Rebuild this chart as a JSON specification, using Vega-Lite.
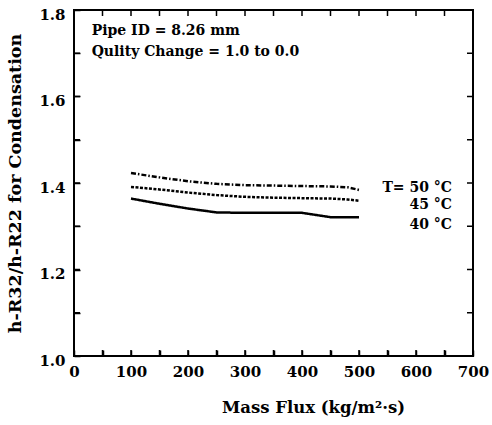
{
  "$schema": "https://vega.github.io/schema/vega-lite/v6.json",
  "autosize": "none",
  "width": 399,
  "height": 346,
  "padding": {"left": 74, "top": 10, "right": 19, "bottom": 69},
  "background": "white",
  "config": {
    "view": {"stroke": "black", "strokeWidth": 2},
    "font": "DejaVu Serif",
    "axis": {
      "labelFont": "DejaVu Serif",
      "labelFontWeight": "bold",
      "labelFontSize": 15,
      "labelColor": "black",
      "titleFont": "DejaVu Serif",
      "titleFontWeight": "bold",
      "titleColor": "black",
      "domain": false,
      "grid": false,
      "ticks": true,
      "tickColor": "black",
      "tickWidth": 1.5,
      "tickSize": 6
    }
  },
  "datasets": {
    "curves": [
      {"G": 100, "r": 1.423, "T": "50"},
      {"G": 150, "r": 1.413, "T": "50"},
      {"G": 200, "r": 1.404, "T": "50"},
      {"G": 250, "r": 1.398, "T": "50"},
      {"G": 300, "r": 1.395, "T": "50"},
      {"G": 350, "r": 1.394, "T": "50"},
      {"G": 400, "r": 1.393, "T": "50"},
      {"G": 450, "r": 1.392, "T": "50"},
      {"G": 480, "r": 1.39, "T": "50"},
      {"G": 500, "r": 1.384, "T": "50"},
      {"G": 100, "r": 1.391, "T": "45"},
      {"G": 150, "r": 1.385, "T": "45"},
      {"G": 200, "r": 1.378, "T": "45"},
      {"G": 250, "r": 1.372, "T": "45"},
      {"G": 300, "r": 1.368, "T": "45"},
      {"G": 350, "r": 1.366, "T": "45"},
      {"G": 400, "r": 1.365, "T": "45"},
      {"G": 450, "r": 1.364, "T": "45"},
      {"G": 480, "r": 1.362, "T": "45"},
      {"G": 500, "r": 1.359, "T": "45"},
      {"G": 100, "r": 1.364, "T": "40"},
      {"G": 150, "r": 1.352, "T": "40"},
      {"G": 200, "r": 1.341, "T": "40"},
      {"G": 250, "r": 1.332, "T": "40"},
      {"G": 300, "r": 1.331, "T": "40"},
      {"G": 350, "r": 1.331, "T": "40"},
      {"G": 400, "r": 1.331, "T": "40"},
      {"G": 450, "r": 1.321, "T": "40"},
      {"G": 500, "r": 1.321, "T": "40"}
    ],
    "notes": [
      {"x": 31, "y": 1.751, "label": "Pipe ID = 8.26 mm"},
      {"x": 31, "y": 1.703, "label": "Qulity Change = 1.0 to 0.0"}
    ],
    "tlabels": [
      {"x": 663, "y": 1.388, "label": "T= 50 °C"},
      {"x": 663, "y": 1.349, "label": "45 °C"},
      {"x": 663, "y": 1.303, "label": "40 °C"}
    ],
    "xticks": [
      {"v": 50}, {"v": 100}, {"v": 150}, {"v": 200}, {"v": 250}, {"v": 300}, {"v": 350},
      {"v": 400}, {"v": 450}, {"v": 500}, {"v": 550}, {"v": 600}, {"v": 650}
    ],
    "yticks": [
      {"v": 1.1}, {"v": 1.2}, {"v": 1.3}, {"v": 1.4}, {"v": 1.5}, {"v": 1.6}, {"v": 1.7}
    ]
  },
  "resolve": {"axis": {"x": "independent", "y": "independent"}},
  "layer": [
    {
      "data": {"name": "curves"},
      "mark": {"type": "line", "color": "black", "strokeWidth": 2.5},
      "encoding": {
        "x": {
          "field": "G", "type": "quantitative",
          "scale": {"domain": [0, 700], "nice": false},
          "axis": {
            "orient": "bottom",
            "offset": -6,
            "values": [0, 50, 100, 150, 200, 250, 300, 350, 400, 450, 500, 550, 600, 650, 700],
            "format": "d",
            "labelOpacity": {"condition": {"test": "datum.value % 100 != 0", "value": 0}, "value": 1},
            "labelPadding": 8,
            "labelFlush": false,
            "labelOverlap": false,
            "title": "Mass Flux (kg/m²·s)",
            "titleFontSize": 16.5,
            "titleX": 239,
            "titlePadding": 20
          }
        },
        "y": {
          "field": "r", "type": "quantitative",
          "scale": {"domain": [1.0, 1.8], "nice": false, "zero": false},
          "axis": {
            "orient": "left",
            "offset": -6,
            "values": [1.0, 1.1, 1.2, 1.3, 1.4, 1.5, 1.6, 1.7, 1.8],
            "format": ".1f",
            "labelOpacity": {"condition": {"test": "round(datum.value * 10) % 2 == 1", "value": 0}, "value": 1},
            "labelPadding": 9,
            "labelOffset": 4,
            "labelOverlap": false,
            "labelBaseline": "middle",
            "title": "h-R32/h-R22 for Condensation",
            "titleFontSize": 17.5,
            "titlePadding": 14
          }
        },
        "strokeDash": {
          "field": "T", "type": "nominal",
          "scale": {"domain": ["50", "45", "40"], "range": [[5, 2, 1.5, 2], [3, 1.5], [1, 0]]},
          "legend": null
        }
      }
    },
    {
      "data": {"name": "xticks"},
      "mark": {"type": "tick", "orient": "vertical", "size": 6, "thickness": 1.5, "color": "black", "opacity": 1, "yOffset": -3},
      "encoding": {
        "x": {"field": "v", "type": "quantitative", "axis": null},
        "y": {"datum": 1.0, "type": "quantitative", "axis": null}
      }
    },
    {
      "data": {"name": "xticks"},
      "mark": {"type": "tick", "orient": "vertical", "size": 6, "thickness": 1.5, "color": "black", "opacity": 1, "yOffset": 3},
      "encoding": {
        "x": {"field": "v", "type": "quantitative", "axis": null},
        "y": {"datum": 1.8, "type": "quantitative", "axis": null}
      }
    },
    {
      "data": {"name": "yticks"},
      "mark": {"type": "tick", "orient": "horizontal", "size": 6, "thickness": 1.5, "color": "black", "opacity": 1, "xOffset": 3},
      "encoding": {
        "y": {"field": "v", "type": "quantitative", "axis": null},
        "x": {"datum": 0, "type": "quantitative", "axis": null}
      }
    },
    {
      "data": {"name": "yticks"},
      "mark": {"type": "tick", "orient": "horizontal", "size": 6, "thickness": 1.5, "color": "black", "opacity": 1, "xOffset": -3},
      "encoding": {
        "y": {"field": "v", "type": "quantitative", "axis": null},
        "x": {"datum": 700, "type": "quantitative", "axis": null}
      }
    },
    {
      "data": {"name": "notes"},
      "mark": {"type": "text", "align": "left", "baseline": "middle", "fontSize": 14, "fontWeight": "bold", "font": "DejaVu Serif", "color": "black"},
      "encoding": {
        "x": {"field": "x", "type": "quantitative", "axis": null},
        "y": {"field": "y", "type": "quantitative", "axis": null},
        "text": {"field": "label"}
      }
    },
    {
      "data": {"name": "tlabels"},
      "mark": {"type": "text", "align": "right", "baseline": "middle", "fontSize": 14, "fontWeight": "bold", "font": "DejaVu Serif", "color": "black"},
      "encoding": {
        "x": {"field": "x", "type": "quantitative", "axis": null},
        "y": {"field": "y", "type": "quantitative", "axis": null},
        "text": {"field": "label"}
      }
    }
  ]
}
